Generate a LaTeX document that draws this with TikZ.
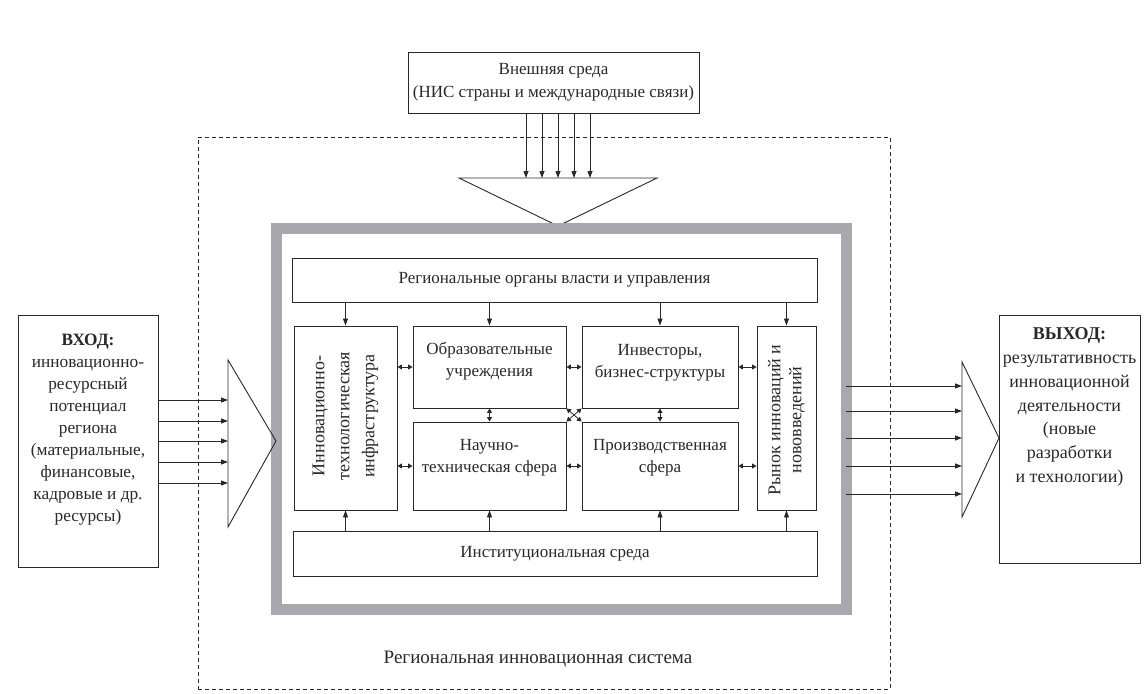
\documentclass[tikz,border=0pt]{standalone}
\usepackage{fontspec}
\setmainfont{Liberation Serif}
\usetikzlibrary{arrows.meta,calc}
\definecolor{framegray}{RGB}{170,168,175}
\definecolor{ink}{RGB}{40,40,40}
\begin{document}
\begin{tikzpicture}[x=1pt,y=-1pt,
  box/.style={draw=ink, line width=0.9pt, inner sep=0pt},
  txt/.style={font=\fontsize{17}{22}\selectfont, align=center, text=ink, inner sep=0pt},
  bigtxt/.style={font=\fontsize{17.3}{22}\selectfont, align=center, text=ink, inner sep=0pt},
  arr/.style={draw=ink, line width=0.8pt, -{Triangle[length=7pt,width=5pt]}},
  darr/.style={draw=ink, line width=0.8pt, {Triangle[length=4.5pt,width=5pt]}-{Triangle[length=4.5pt,width=5pt]}},
  tri/.style={draw=ink, line width=0.9pt, line join=miter},
]
\useasboundingbox (0,0) rectangle (1147,693);

% regional system (dashed)
\node[draw=ink, line width=0.8pt, dash pattern=on 4pt off 3pt, inner sep=0pt,
      minimum width=692pt, minimum height=552pt] (ris) at (544,413) {};
\node[txt, font=\fontsize{19}{22}\selectfont] (rislabel) at (538,659) {Региональная инновационная система};

% external environment
\node[box, minimum width=291pt, minimum height=61pt] (ext) at (553.5,82.5) {};
\node[txt, font=\fontsize{17}{23}\selectfont] (exttxt) at (ext) {Внешняя среда\\(НИС страны и международные связи)};

% top funnel triangle
\coordinate (tA) at (459,178);
\coordinate (tB) at (657,178);
\coordinate (tC) at (558,226);
\draw[tri] (tA) -- (tB) -- (tC) -- cycle;
\foreach \d in {-32,-16,0,16,32}
  \draw[arr] ($(tC |- ext.south)+(\d,0)$) -- ($(tC |- tA)+(\d,0)$);

% gray frame
\node[draw=framegray, line width=11pt, inner sep=0pt,
      minimum width=570pt, minimum height=381pt] (frame) at (561.5,419) {};

% inner boxes
\node[box, minimum width=525pt, minimum height=44pt] (gov) at (554.5,280) {};
\node[txt] (govtxt) at (gov) {Региональные органы власти и управления};

\node[box, minimum width=103pt, minimum height=184pt] (infra) at (345.5,418) {};
\node[txt, font=\fontsize{18}{25}\selectfont, rotate=90] (infratxt) at ($(infra)+(0,-2)$) {Инновационно-\\технологическая\\инфраструктура};

\node[box, minimum width=153pt, minimum height=82pt] (edu) at (489.5,367) {};
\node[txt] (edutxt) at ($(edu)+(0,-6)$) {Образовательные\\учреждения};

\node[box, minimum width=156pt, minimum height=82pt] (inv) at (660,367) {};
\node[txt] (invtxt) at ($(inv)+(0,-4)$) {Инвесторы,\\бизнес-структуры};

\node[box, minimum width=59pt, minimum height=184pt] (market) at (786.5,418) {};
\node[txt, font=\fontsize{18}{21}\selectfont, rotate=90] (markettxt) at ($(market)+(0,2)$) {Рынок инноваций и\\нововведений};

\node[box, minimum width=153pt, minimum height=88pt] (sci) at (489.5,466) {};
\node[txt] (scitxt) at ($(sci)+(0,-8)$) {Научно-\\техническая сфера};

\node[box, minimum width=156pt, minimum height=88pt] (prod) at (660,466) {};
\node[txt] (prodtxt) at ($(prod)+(0,-8)$) {Производственная\\сфера};

\node[box, minimum width=524pt, minimum height=45pt] (inst) at (555,553.5) {};
\node[txt] (insttxt) at (inst) {Институциональная среда};

% arrows from government down
\foreach \b in {infra,edu,inv,market}
  \draw[arr] (\b.north |- gov.south) -- (\b.north);
% arrows from institutional environment up
\foreach \b in {infra,sci,prod,market}
  \draw[arr] (\b.south |- inst.north) -- (\b.south);

% double arrows
\draw[darr] (infra.east |- edu.east) -- (edu.west);
\draw[darr] (edu.east) -- (inv.west);
\draw[darr] (inv.east) -- (market.west |- inv.east);
\draw[darr] (infra.east |- sci.east) -- (sci.west);
\draw[darr] (sci.east) -- (prod.west);
\draw[darr] (prod.east) -- (market.west |- prod.east);
\draw[darr] (edu.south) -- (sci.north);
\draw[darr] (inv.south) -- (prod.north);
\draw[darr] (edu.south east) -- (prod.north west);
\draw[darr] (inv.south west) -- (sci.north east);

% input
\node[box, minimum width=140pt, minimum height=252pt] (in) at (88,441) {};
\node[bigtxt] (intxt) at ($(in)+(0,-11)$) {\textbf{ВХОД:}\\инновационно-\\ресурсный\\потенциал\\региона\\(материальные,\\финансовые,\\кадровые и др.\\ресурсы)};
\coordinate (iA) at (228,360);
\coordinate (iB) at (228,527);
\coordinate (iC) at (276,441);
\draw[tri] (iA) -- (iC) -- (iB) -- cycle;
\foreach \d in {-41,-20,0,21,42}
  \draw[arr] ($(in.east)+(0,\d)$) -- ($(iA |- in.east)+(0,\d)$);

% output
\node[box, minimum width=141pt, minimum height=248pt] (out) at (1069.5,439) {};
\node[txt, font=\fontsize{18}{23.8}\selectfont] (outtxt) at ($(out)+(0,-32)$) {\textbf{ВЫХОД:}\\результативность\\инновационной\\деятельности\\(новые\\разработки\\и технологии)};
\coordinate (oA) at (962,362);
\coordinate (oB) at (962,517);
\coordinate (oC) at (999,438);
\draw[tri] (oA) -- (oC) -- (oB) -- cycle;
\foreach \d in {-52,-27,0,28,56}
  \draw[arr] ($(frame.east |- oC)+(-6,\d)$) -- ($(oA |- oC)+(0,\d)$);
\end{tikzpicture}
\end{document}
